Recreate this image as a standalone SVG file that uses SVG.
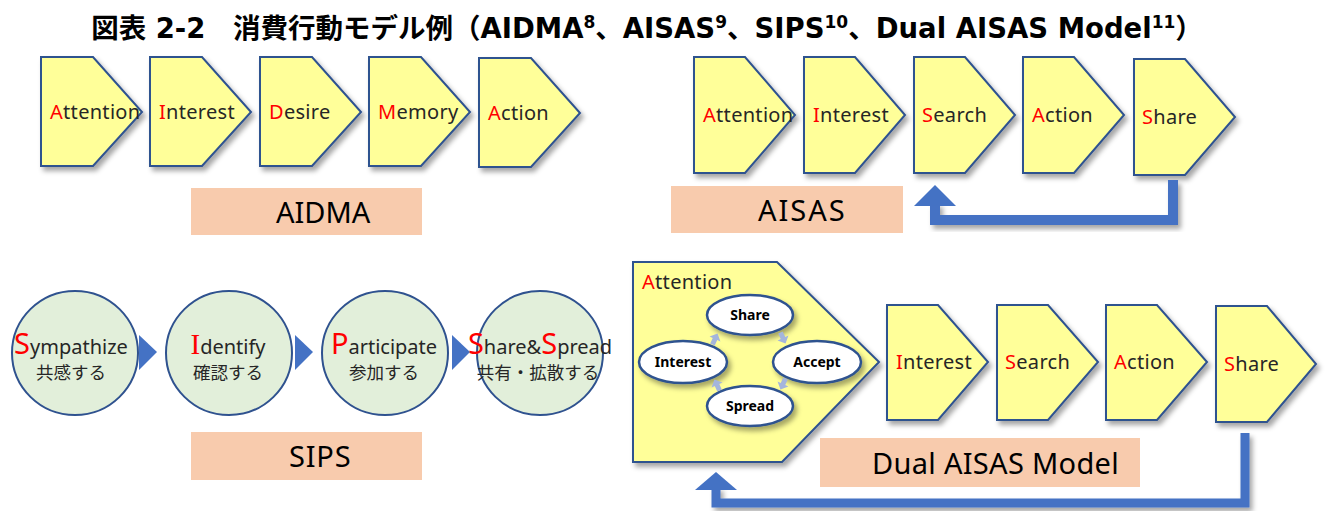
<svg xmlns="http://www.w3.org/2000/svg" width="1327" height="511" viewBox="0 0 1327 511">
<defs>
<filter id="sh" x="-20%" y="-20%" width="150%" height="150%">
<feDropShadow dx="3" dy="4" stdDeviation="2.5" flood-color="#000" flood-opacity="0.35"/>
</filter>
<style>
.pent{fill:#FFFF99;stroke:#2F528F;stroke-width:2;filter:url(#sh)}
.lbl{fill:#F8CBAD}
.lt{font-family:"Noto Sans","Noto Sans CJK JP",sans-serif;font-size:29px;fill:#000}
.pt{font-family:"Noto Sans","Noto Sans CJK JP",sans-serif;font-size:20px;fill:#262626;letter-spacing:0.3px}
.r{fill:#FF0000}
.circ{fill:#E2EFDA;stroke:#2F528F;stroke-width:2}
.ct{font-family:"Noto Sans","Noto Sans CJK JP",sans-serif;font-size:20px;fill:#262626;text-anchor:middle}
.big{font-size:29px;fill:#FF0000}
.jt{font-family:"Noto Sans CJK JP",sans-serif;font-size:17.5px;fill:#262626;text-anchor:middle}
.ell{fill:#fff;stroke:#2F528F;stroke-width:2.5;filter:url(#sh)}
.et{font-family:"Noto Sans","Noto Sans CJK JP",sans-serif;font-size:14px;font-weight:bold;fill:#000;text-anchor:middle}
.tri{fill:#4472C4}
.fb{fill:none;stroke:#4472C4;stroke-width:10;filter:url(#sh)}
.fbh{fill:#4472C4}
.sa{fill:#A4B5DC}
.title{font-family:"DejaVu Sans","Noto Sans CJK JP",sans-serif;font-size:27.5px;font-weight:bold;fill:#000}
.sup{font-size:17px}
</style>
</defs>
<rect width="1327" height="511" fill="#fff"/>

<text class="title" x="647" y="38" text-anchor="middle"><tspan font-family="Noto Sans CJK JP">図表</tspan> 2-2　<tspan font-family="Noto Sans CJK JP">消費行動モデル例（</tspan>AIDMA<tspan class="sup" dy="-10">8</tspan><tspan dy="10" font-family="Noto Sans CJK JP">、</tspan>AISAS<tspan class="sup" dy="-10">9</tspan><tspan dy="10" font-family="Noto Sans CJK JP">、</tspan>SIPS<tspan class="sup" dy="-10">10</tspan><tspan dy="10" font-family="Noto Sans CJK JP">、</tspan>Dual AISAS Model<tspan class="sup" dy="-10">11</tspan><tspan dy="10" font-family="Noto Sans CJK JP">）</tspan></text>

<!-- AIDMA -->
<g id="aidma-attention"><path class="pent" d="M41,57 H93 L142,112 L93,166 H41 Z"/><text class="pt" x="50" y="119"><tspan class="r">A</tspan>ttention</text></g>
<g id="aidma-interest"><path class="pent" d="M150,57 H202 L251,112 L202,166 H150 Z"/><text class="pt" x="159" y="119"><tspan class="r">I</tspan>nterest</text></g>
<g id="aidma-desire"><path class="pent" d="M260,57 H312 L361,112 L312,166 H260 Z"/><text class="pt" x="269" y="119"><tspan class="r">D</tspan>esire</text></g>
<g id="aidma-memory"><path class="pent" d="M369,57 H421 L470,112 L421,166 H369 Z"/><text class="pt" x="378" y="119"><tspan class="r">M</tspan>emory</text></g>
<g id="aidma-action"><path class="pent" d="M479,58 H531 L580,113 L531,167 H479 Z"/><text class="pt" x="488" y="120"><tspan class="r">A</tspan>ction</text></g>
<g id="aidma-label"><rect class="lbl" x="191" y="188" width="231" height="47"/><text class="lt" x="276" y="223">AIDMA</text></g>

<!-- AISAS -->
<g id="aisas-attention"><path class="pent" d="M694,57 H745 L795,115 L745,173 H694 Z"/><text class="pt" x="703" y="122"><tspan class="r">A</tspan>ttention</text></g>
<g id="aisas-interest"><path class="pent" d="M804,57 H855 L905,115 L855,173 H804 Z"/><text class="pt" x="813" y="122"><tspan class="r">I</tspan>nterest</text></g>
<g id="aisas-search"><path class="pent" d="M914,57 H965 L1015,115 L965,173 H914 Z"/><text class="pt" x="922" y="122"><tspan class="r">S</tspan>earch</text></g>
<g id="aisas-action"><path class="pent" d="M1023,57 H1074 L1124,115 L1074,173 H1023 Z"/><text class="pt" x="1032" y="122"><tspan class="r">A</tspan>ction</text></g>
<g id="aisas-share"><path class="pent" d="M1134,59 H1185 L1235,117 L1185,175 H1134 Z"/><text class="pt" x="1142" y="124"><tspan class="r">S</tspan>hare</text></g>
<g id="aisas-label"><rect class="lbl" x="671" y="186" width="232" height="47"/><text class="lt" x="758" y="221" letter-spacing="2">AISAS</text></g>

<!-- SIPS -->
<g id="sips-sympathize"><ellipse class="circ" cx="75" cy="353" rx="63" ry="62"/><text class="ct" x="71" y="354"><tspan class="big">S</tspan>ympathize</text><text class="jt" x="71" y="379">共感する</text></g>
<g id="sips-identify"><ellipse class="circ" cx="229" cy="353" rx="63" ry="62"/><text class="ct" x="228" y="354"><tspan class="big" font-family="Liberation Serif">I</tspan>dentify</text><text class="jt" x="228" y="379">確認する</text></g>
<g id="sips-participate"><ellipse class="circ" cx="385" cy="353" rx="63" ry="62"/><text class="ct" x="384" y="354"><tspan class="big">P</tspan>articipate</text><text class="jt" x="384" y="379">参加する</text></g>
<g id="sips-share"><ellipse class="circ" cx="540" cy="353" rx="63" ry="62"/><text class="ct" x="540" y="354"><tspan class="big">S</tspan>hare&amp;<tspan class="big">S</tspan>pread</text><text class="jt" x="538" y="379">共有・拡散する</text></g>
<g id="sips-label"><rect class="lbl" x="191" y="432" width="231" height="48"/><text class="lt" x="289" y="467" letter-spacing="0.8">SIPS</text></g>

<!-- Dual AISAS -->
<g id="dual-attention">
<path class="pent" d="M633,262 H777 L879,362 L782,462 H633 Z"/>
<text class="pt" x="642" y="289"><tspan class="r">A</tspan>ttention</text>
<ellipse class="ell" cx="750" cy="315" rx="43" ry="20"/><text class="et" x="750" y="320">Share</text>
<ellipse class="ell" cx="683" cy="362" rx="44" ry="21"/><text class="et" x="683" y="367">Interest</text>
<ellipse class="ell" cx="817" cy="362" rx="44" ry="21"/><text class="et" x="817" y="367">Accept</text>
<ellipse class="ell" cx="750" cy="406" rx="43" ry="20"/><text class="et" x="750" y="411">Spread</text>
<path class="sa" transform="translate(715,339) rotate(25)" d="M0,-6 L6,0 L2.5,0 L2.5,6 L-2.5,6 L-2.5,0 L-6,0 Z"/>
<path class="sa" transform="translate(783,338) rotate(155)" d="M0,-6 L6,0 L2.5,0 L2.5,6 L-2.5,6 L-2.5,0 L-6,0 Z"/>
<path class="sa" transform="translate(717,385) rotate(-25)" d="M0,-6 L6,0 L2.5,0 L2.5,6 L-2.5,6 L-2.5,0 L-6,0 Z"/>
<path class="sa" transform="translate(783,384) rotate(205)" d="M0,-6 L6,0 L2.5,0 L2.5,6 L-2.5,6 L-2.5,0 L-6,0 Z"/>
</g>
<g id="dual-interest"><path class="pent" d="M887,305 H938 L988,362 L938,420 H887 Z"/><text class="pt" x="896" y="369"><tspan class="r">I</tspan>nterest</text></g>
<g id="dual-search"><path class="pent" d="M997,305 H1048 L1098,362 L1048,420 H997 Z"/><text class="pt" x="1005" y="369"><tspan class="r">S</tspan>earch</text></g>
<g id="dual-action"><path class="pent" d="M1106,305 H1157 L1207,362 L1157,420 H1106 Z"/><text class="pt" x="1114" y="369"><tspan class="r">A</tspan>ction</text></g>
<g id="dual-share"><path class="pent" d="M1216,306 H1267 L1316,364 L1267,422 H1216 Z"/><text class="pt" x="1224" y="371"><tspan class="r">S</tspan>hare</text></g>
<g id="dual-label"><rect class="lbl" x="820" y="438" width="320" height="49"/><text class="lt" x="872" y="474" letter-spacing="0.3">Dual AISAS Model</text></g>

<!-- connectors -->
<g id="connectors">
<polygon class="tri" points="139,335 157,352 139,370"/>
<polygon class="tri" points="295,335 313,352 295,370"/>
<polygon class="tri" points="452,335 470,352 452,370"/>
<path class="fb" d="M1173,180 V220 H935 V203"/>
<polygon class="fbh" points="914,206 935,185 956,206"/>
<path class="fb" style="stroke-width:9" d="M1245,433 V503 H716 V487"/>
<polygon class="fbh" points="695,490 716,472 737,490"/>
</g>
</svg>
